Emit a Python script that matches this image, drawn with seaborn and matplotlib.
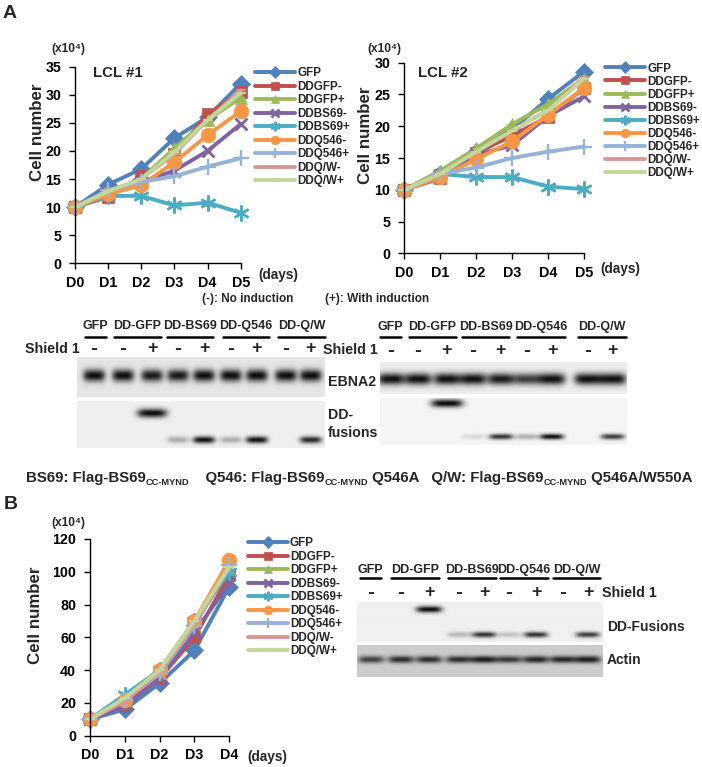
import numpy as np
import pandas as pd
import matplotlib
matplotlib.use("Agg")
import matplotlib.pyplot as plt
from matplotlib.lines import Line2D
import seaborn as sns

# ---------------- data ----------------
series = ["GFP", "DDGFP-", "DDGFP+", "DDBS69-", "DDBS69+", "DDQ546-", "DDQ546+", "DDQ/W-", "DDQ/W+"]
days_a = ["D0", "D1", "D2", "D3", "D4", "D5"]
days_b = ["D0", "D1", "D2", "D3", "D4"]

lcl1_values = [
    [10, 14.0, 16.8, 22.3, 26.0, 32.0],
    [10, 11.8, 15.5, 19.5, 26.5, 30.5],
    [10, 12.3, 15.0, 20.5, 25.5, 29.5],
    [10, 12.5, 14.5, 16.5, 20.0, 24.8],
    [10, 12.0, 12.0, 10.3, 10.8, 9.0],
    [10, 12.3, 13.9, 18.0, 22.8, 27.1],
    [10, 13.0, 14.5, 15.5, 17.2, 18.7],
    [10, 12.8, 15.0, 19.5, 25.5, 30.8],
    [10, 12.8, 15.0, 19.8, 25.5, 30.3],
]
lcl2_values = [
    [10, 12.5, 16.0, 19.5, 24.3, 28.6],
    [10, 11.8, 15.8, 18.5, 21.5, 26.0],
    [10, 13.0, 16.5, 20.3, 23.5, 27.5],
    [10, 12.3, 15.5, 17.0, 21.6, 24.7],
    [10, 12.5, 12.0, 12.0, 10.5, 10.1],
    [10, 12.0, 14.8, 17.6, 21.8, 26.0],
    [10, 12.5, 13.5, 15.0, 16.0, 16.8],
    [10, 12.5, 16.0, 19.3, 22.5, 27.8],
    [10, 12.5, 16.0, 19.3, 22.5, 27.5],
]
panelb_values = [
    [10, 16, 32, 52, 91],
    [10, 19, 35, 60, 98],
    [10, 22, 38, 68, 102],
    [10, 18, 35, 63, 93],
    [10, 25, 40, 70, 100],
    [10, 22, 40, 70, 107],
    [10, 22, 38, 67, 104],
    [10, 21, 39, 68, 103],
    [10, 23, 40, 70, 103],
]

lane_groups = ["GFP", "DD-GFP", "DD-BS69", "DD-Q546", "DD-Q/W"]
shield = ["-", "-", "+", "-", "+", "-", "+", "-", "+"]
# band intensities per lane (0..1)
ebna2_left = [1.0, 1.0, 0.95, 0.95, 1.0, 1.0, 1.0, 1.0, 1.0]
ddf_left_upper = [0, 0, 1.0, 0, 0, 0, 0, 0, 0]
ddf_left_lower = [0, 0, 0, 0.3, 1.0, 0.3, 1.0, 0, 0.9]
ebna2_right = [1.0, 1.0, 1.0, 1.0, 0.95, 0.8, 1.0, 1.0, 1.0]
ddf_right_upper = [0, 0, 1.0, 0, 0, 0, 0, 0, 0]
ddf_right_lower = [0, 0, 0, 0.12, 0.85, 0.3, 1.0, 0, 0.8]
ddf_b_upper = [0, 0, 1.0, 0, 0, 0, 0, 0, 0]
ddf_b_lower = [0, 0, 0, 0.25, 0.85, 0.2, 0.85, 0, 0.8]
actin_b = [0.8, 0.9, 0.9, 0.9, 1.0, 0.85, 0.95, 0.95, 1.0]

# ---------------- style ----------------
W, H = 702, 767
sns.set_theme(style="white")
plt.rcParams["font.family"] = ["Liberation Sans", "DejaVu Sans"]
plt.rcParams["font.weight"] = "bold"

colors = ["#4F81BD", "#C0504D", "#9BBB59", "#8064A2", "#4BACC6",
          "#F79646", "#95B3D7", "#D99694", "#C3D69B"]
markers = ["D", "s", "^", "x", (6, 2, 0), "o", "+", "_", "_"]
msizes = [9.5, 8.5, 8.5, 9, 11.5, 10.5, 11, 7, 7]
mews = [0.5, 0.5, 0.5, 2.0, 1.7, 0.5, 1.7, 1.5, 1.5]

fig = plt.figure(figsize=(W / 100, H / 100), dpi=100)


def fx(x):
    return x / W


def fy(y):
    return 1 - y / H


def T(x, y, s, **kw):
    kw.setdefault("ha", "center")
    kw.setdefault("va", "center")
    kw.setdefault("fontweight", "bold")
    return fig.text(fx(x), fy(y), s, **kw)


def axes_px(x0, y0, x1, y1):
    return fig.add_axes([fx(x0), fy(y1), (x1 - x0) / W, (y1 - y0) / H])


def draw_chart(rect, days, values, ymax, ystep, leg_x, leg_y, spacing):
    ax = axes_px(*rect)
    x = np.arange(len(days))
    for name, vals, c, m, ms, mw in zip(series, values, colors, markers, msizes, mews):
        df = pd.DataFrame({"day": x, "cells": vals})
        sns.lineplot(data=df, x="day", y="cells", ax=ax, color=c, marker=m,
                     markersize=ms, markeredgecolor=c, markerfacecolor=c,
                     markeredgewidth=mw, linewidth=2.8, label=name,
                     clip_on=False, legend=False)
    ax.set_xlim(0, len(days) - 1)
    ax.set_ylim(0, ymax)
    ax.set_yticks(np.arange(0, ymax + 1, ystep))
    ax.set_xticks(x)
    ax.set_xticklabels(days)
    ax.set_xlabel("")
    ax.set_ylabel("")
    for s in ["top", "right"]:
        ax.spines[s].set_visible(False)
    for s in ["left", "bottom"]:
        ax.spines[s].set_color("black")
        ax.spines[s].set_linewidth(1.0)
    ax.tick_params(axis="both", which="major", direction="out", length=4, width=1,
                   color="black", labelsize=10.3, labelcolor="black",
                   bottom=True, left=True)
    ax.tick_params(axis="y", pad=6)
    ax.tick_params(axis="x", pad=5)
    handles, labels = ax.get_legend_handles_labels()
    leg = ax.legend(handles, labels, loc="upper left",
                    bbox_to_anchor=(fx(leg_x), fy(leg_y - 6.5)),
                    bbox_transform=fig.transFigure, frameon=False,
                    fontsize=8.4, handlelength=3.4, handletextpad=0.2,
                    labelspacing=spacing, borderpad=0, borderaxespad=0,
                    markerscale=0.6)
    for t in leg.get_texts():
        t.set_fontweight("bold")
    return ax


# ---------------- panel A charts ----------------
draw_chart((75, 66.7, 240.7, 263.3), days_a, lcl1_values, 35, 5, 255, 74, 0.125)
draw_chart((404.3, 62.7, 584, 253.3), days_a, lcl2_values, 30, 5, 605, 69, 0.09)
draw_chart((90, 539, 229.3, 735.7), days_b, panelb_values, 120, 20, 248, 544, 0.125)

T(9.5, 13.5, "A", fontsize=14)
T(10.5, 505, "B", fontsize=14)
for (x, y) in [(68, 49), (384, 49), (68, 523)]:
    T(x, y, "(x10\u2074)", fontsize=8.6)
T(118, 73, "LCL #1", fontsize=10.8)
T(443, 73, "LCL #2", fontsize=10.8)
for (x, y) in [(38, 132), (366, 135), (36, 615)]:
    T(x, y, "Cell number", fontsize=12.2, rotation=90)
for (x, y) in [(278, 275), (620, 269), (267, 757)]:
    T(x, y, "(days)", fontsize=9.8)
T(202, 299, "(-): No induction", fontsize=8.5, ha="left")
T(325, 299, "(+): With induction", fontsize=8.5, ha="left")


# ---------------- blots ----------------
def strip(rect, lanes, bg, bands):
    x0, y0, x1, y1 = rect
    w, h = int(round((x1 - x0) * 2)), int(round((y1 - y0) * 2))
    xx = np.linspace(x0, x1, w)[None, :]
    yy = np.linspace(y0, y1, h)[:, None]
    img = np.full((h, w), bg, dtype=float)
    for (intens, yc, hw, hh, dark) in bands:
        for lx, a in zip(lanes, intens):
            if a <= 0:
                continue
            prof = np.exp(-((xx - lx) / hw) ** 4 - ((yy - yc) / hh) ** 2)
            img -= (bg - dark) * a * prof
    img = np.clip(img, 0, 1)
    ax = axes_px(*rect)
    ax.imshow(img, cmap="gray", vmin=0, vmax=1, aspect="auto", interpolation="bilinear")
    ax.set_axis_off()
    return ax


def header(lanes, centers, ulines, y_text, y_line, y_shield):
    for name, cx, (ux0, ux1) in zip(lane_groups, centers, ulines):
        T(cx, y_text, name, fontsize=9)
        fig.add_artist(Line2D([fx(ux0), fx(ux1)], [fy(y_line), fy(y_line)],
                              color="black", linewidth=1.8))
    for lx, s in zip(lanes, shield):
        T(lx, y_shield, s, fontsize=15 if s == "-" else 13)


lanes_l = [94, 123, 152, 178, 204, 231, 257, 286, 311]
lanes_r = [391, 418, 447, 473, 501, 527, 552, 588, 613]
lanes_b = [371, 401, 429, 459, 484, 509, 536, 563, 588]

# left blot
header(lanes_l, [95.5, 137.5, 190, 246, 301.5],
       [(85, 106), (114, 161), (167, 213), (223, 269), (278, 325)], 326, 337, 349)
T(25, 349, "Shield 1", fontsize=10.3, ha="left")
strip((77, 357, 325, 397), lanes_l, 0.90, [(ebna2_left, 376, 11, 6.0, 0.05)])
strip((77, 401, 325, 448), lanes_l, 0.94,
      [(ddf_left_upper, 413, 15, 4.5, 0.05), (ddf_left_lower, 440, 11, 3.5, 0.06)])
T(328, 382, "EBNA2", fontsize=10.2, ha="left")
T(328, 415, "DD-", fontsize=10.2, ha="left")
T(328, 433, "fusions", fontsize=10.2, ha="left")

# right blot
header(lanes_r, [390.5, 432.5, 485.5, 541, 602],
       [(380, 401), (409, 456), (462, 509), (517, 565), (578, 626)], 327, 337, 350)
T(323, 350, "Shield 1", fontsize=10.3, ha="left")
strip((380, 362, 627, 394), lanes_r, 0.93, [(ebna2_right, 379, 13.5, 6, 0.06)])
strip((380, 398, 627, 445), lanes_r, 0.96,
      [(ddf_right_upper, 404, 16, 4.0, 0.04), (ddf_right_lower, 437, 12, 2.8, 0.06)])

# footer
narrow = ["Liberation Sans Narrow", "Liberation Sans", "DejaVu Sans"]
pieces = [("BS69: Flag-BS69", 0), ("CC-MYND", 1), ("    Q546: Flag-BS69", 0), ("CC-MYND", 1),
          (" Q546A   Q/W: Flag-BS69", 0), ("CC-MYND", 1), (" Q546A/W550A", 0)]
renderer = fig.canvas.get_renderer()


def layout_footer(size, x0=26, base=482):
    arts = []
    x = x0
    for s, sub in pieces:
        fs = size * 0.62 if sub else size
        yb = base + 3 if sub else base
        t = fig.text(fx(x), fy(yb), s, fontsize=fs, fontweight="bold", family=narrow,
                     ha="left", va="baseline")
        bb = t.get_window_extent(renderer)
        x += bb.width
        arts.append(t)
    return arts, x - x0


arts, wtot = layout_footer(10)
for a in arts:
    a.remove()
layout_footer(10 * 671 / wtot)

# panel B blot
header(lanes_b, [370.5, 415, 472, 524, 576.5],
       [(360, 381), (391, 439), (448, 496), (500, 548), (553, 600)], 570, 578, 593)
T(602, 593, "Shield 1", fontsize=10.3, ha="left")
strip((357, 602, 603, 642), lanes_b, 0.94,
      [(ddf_b_upper, 610, 13, 3.2, 0.05), (ddf_b_lower, 635, 12, 2.8, 0.06)])
strip((357, 645, 603, 677), lanes_b, 0.80, [(actin_b, 660, 13, 3.5, 0.1)])
T(607, 627, "DD-Fusions", fontsize=10, ha="left")
T(607, 660, "Actin", fontsize=10, ha="left")

fig.savefig("out.png", dpi=100)
